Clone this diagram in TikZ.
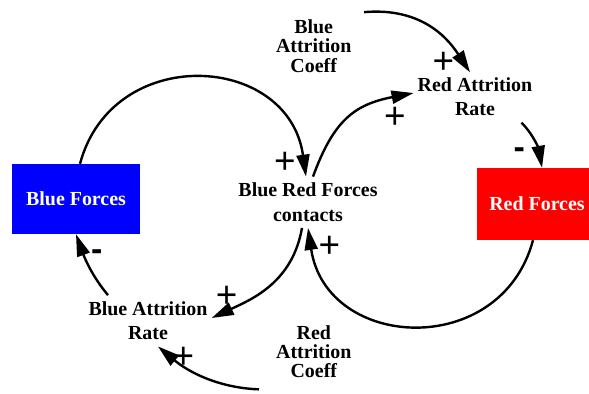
\documentclass[tikz,border=0pt]{standalone}
\usepackage{fontspec}
\setmainfont{Liberation Serif}
\newfontfamily\signfont{Liberation Sans}
\usetikzlibrary{arrows.meta}
\definecolor{bfblue}{RGB}{0,0,255}
\definecolor{rfred}{RGB}{255,0,0}
\tikzset{
  lbl/.style={font=\bfseries\fontsize{20}{24}\selectfont, align=center, inner xsep=4bp, inner ysep=5bp},
  coef/.style={font=\bfseries\fontsize{20}{19.5}\selectfont, align=center, inner xsep=4bp, inner ysep=4bp},
  forcebox/.style={minimum width=#1, minimum height=70bp, inner sep=0pt, text=white, font=\bfseries\fontsize{20}{24}\selectfont},
  arr/.style={line width=2.4bp, -{Triangle[length=22bp,width=13bp]}},
  plussign/.style={font=\signfont\fontsize{37}{37}\selectfont, inner sep=0pt},
  minussign/.style={font=\signfont\bfseries\fontsize{34}{34}\selectfont, inner sep=0pt},
}
\begin{document}
\begin{tikzpicture}[x=1bp,y=1bp]
\useasboundingbox (0,0) rectangle (589,393);
% stocks
\node[forcebox=128bp, fill=bfblue] (bf) at (76,194) {Blue Forces};
\node[forcebox=120bp, fill=rfred, minimum height=72bp] (rf) at (537,189) {Red Forces};
% variables
\node[lbl, font=\bfseries\fontsize{20}{25}\selectfont, inner ysep=6bp] (c) at (308,190.7) {Blue Red Forces\\contacts};
\node[lbl] (rar) at (475,296.5) {Red Attrition\\Rate};
\node[lbl] (bar) at (148,72.7) {Blue Attrition\\Rate};
\node[coef] (bac) at (313.7,347.2) {Blue\\Attrition\\Coeff};
\node[coef] (rac) at (313.8,41.3) {Red\\Attrition\\Coeff};
% connectors
\draw[arr] ([xshift=4bp]bf.north) .. controls +(75:125) and +(98:125) .. ([xshift=-2bp]c.north);
\draw[arr] ([xshift=-4bp]rf.south) .. controls +(-105:124) and +(-81.5:124) .. (c.south);
\draw[arr] ([xshift=-6bp]c.south) .. controls +(-100:55) and +(25:45) .. ([yshift=2.3bp]bar.east);
\draw[arr] ([xshift=-13bp,yshift=-7bp]rac.south west) .. controls +(178:40) and +(-40:40) .. ([xshift=10bp,yshift=-2bp]bar.south);
\draw[arr] ([xshift=-40bp,yshift=1bp]bar.north) .. controls +(130:25) and +(-70:25) .. (bf.south);
\draw[arr] ([xshift=5bp]c.north) .. controls +(70:60) and +(191:60) .. ([yshift=3.5bp]rar.west);
\draw[arr] ([xshift=8.5bp,yshift=3bp]bac.north east) .. controls +(5:50) and +(123:50) .. ([xshift=-5bp]rar.north);
\draw[arr] ([xshift=-15bp,yshift=-2bp]rar.south east) .. controls +(-45:18) and +(100:18) .. ([xshift=5bp]rf.north);
% polarities
\node[plussign] (p1) at (285,229.7) {+};
\node[plussign] (p2) at (329.3,145.7) {+};
\node[plussign] (p3) at (226.7,96.3) {+};
\node[plussign] (p4) at (183.3,35.3) {+};
\node[plussign] (p5) at (395,274.7) {+};
\node[plussign] (p6) at (443.3,330) {+};
\node[minussign] (m1) at (96.7,138) {-};
\node[minussign] (m2) at (519.3,240.3) {-};
\end{tikzpicture}
\end{document}
